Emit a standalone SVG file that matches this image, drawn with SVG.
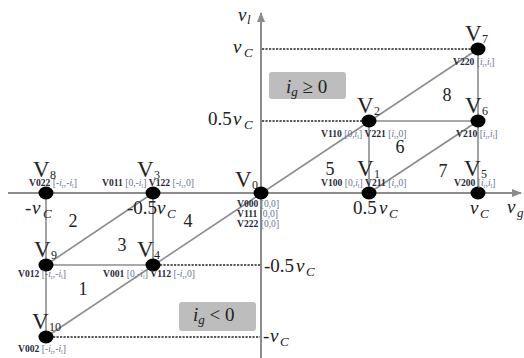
<svg xmlns="http://www.w3.org/2000/svg" width="524" height="358" viewBox="0 0 524 358">
<defs>
<style>
.ln{stroke:#8c8c8c;stroke-width:1.6;fill:none}
.ax{stroke:#8c8c8c;stroke-width:2;fill:none}
.ds{stroke:#5a5a5a;stroke-width:2;stroke-dasharray:2.2 1.3;fill:none}
.dot{fill:#000}
text{font-family:"Liberation Serif","DejaVu Serif",serif;fill:#222}
.V{font-size:23px}
.vs{font-size:12px}
.c{font-size:9.6px;fill:#6a7490}
.b{font-weight:bold;fill:#2a2a3a}
.i{font-style:italic}
.s{font-size:6px}
.num{font-size:18px;text-anchor:middle}
.lab{font-size:19px}
.ls{font-size:13px}
.box{fill:#bdbdbd}
</style>
<marker id="ah" markerWidth="10" markerHeight="10" refX="9" refY="5" orient="auto" markerUnits="userSpaceOnUse">
<path d="M0,1 L10,5 L0,9 z" fill="#8c8c8c"/>
</marker>
</defs>
<rect width="524" height="358" fill="#fff"/>

<g id="axes">
<line class="ax" x1="8" y1="193" x2="521" y2="193" marker-end="url(#ah)"/>
<line class="ax" x1="261" y1="358" x2="261" y2="13" marker-end="url(#ah)"/>
<text class="lab i" x="238" y="21">v</text><text class="ls i" x="247" y="24">l</text>
<text class="lab i" x="507" y="213">v</text><text class="ls i" x="517" y="217">g</text>
</g>

<g id="connectors">
<line class="ln" x1="46" y1="337" x2="478" y2="49"/>
<line class="ln" x1="46" y1="265" x2="153" y2="193"/>
<line class="ln" x1="369" y1="193" x2="478" y2="121"/>
<line class="ln" x1="46" y1="193" x2="46" y2="337"/>
<line class="ln" x1="153" y1="193" x2="153" y2="265"/>
<line class="ln" x1="46" y1="265" x2="153" y2="265"/>
<line class="ln" x1="369" y1="121" x2="369" y2="193"/>
<line class="ln" x1="369" y1="121" x2="478" y2="121"/>
<line class="ln" x1="478" y1="49" x2="478" y2="193"/>
<line class="ds" x1="153" y1="265" x2="260" y2="265"/>
<line class="ds" x1="46" y1="337" x2="260" y2="337"/>
<line class="ds" x1="262" y1="49" x2="478" y2="49"/>
<line class="ds" x1="262" y1="121" x2="369" y2="121"/>
</g>

<g id="ticklabels">
<text class="lab i" x="233" y="53">v</text><text class="ls i" x="244" y="57">C</text>
<text class="lab" x="208" y="125">0.5</text><text class="lab i" x="233" y="125">v</text><text class="ls i" x="244" y="129">C</text>
<text class="lab" x="264" y="272">-0.5</text><text class="lab i" x="296" y="272">v</text><text class="ls i" x="306" y="276">C</text>
<text class="lab" x="263" y="342">-</text><text class="lab i" x="270" y="342">v</text><text class="ls i" x="280" y="346">C</text>
<text class="lab" x="25" y="214">-</text><text class="lab i" x="32" y="214">v</text><text class="ls i" x="43" y="218">C</text>
<text class="lab" x="127" y="214">-0.5</text><text class="lab i" x="157" y="214">v</text><text class="ls i" x="167" y="218">C</text>
<text class="lab" x="353" y="214">0.5</text><text class="lab i" x="379" y="214">v</text><text class="ls i" x="389" y="218">C</text>
<text class="lab i" x="470" y="214">v</text><text class="ls i" x="480" y="218">C</text>
</g>

<g id="regions">
<text class="num" x="73" y="227">2</text>
<text class="num" x="122" y="251">3</text>
<text class="num" x="83" y="295">1</text>
<text class="num" x="188" y="227">4</text>
<text class="num" x="330" y="175">5</text>
<text class="num" x="400" y="153">6</text>
<text class="num" x="443" y="177">7</text>
<text class="num" x="447" y="101">8</text>
</g>

<g id="box-pos">
<rect class="box" x="269" y="72" width="77" height="27" rx="3"/>
<text class="lab" x="286" y="93"><tspan class="i">i</tspan><tspan class="ls i" dy="3">g</tspan><tspan dy="-3"> ≥ 0</tspan></text>
</g>
<g id="box-neg">
<rect class="box" x="179" y="302" width="77" height="29" rx="3"/>
<text class="lab" x="193" y="321"><tspan class="i">i</tspan><tspan class="ls i" dy="3">g</tspan><tspan dy="-3"> &lt; 0</tspan></text>
</g>

<g id="V8">
<ellipse class="dot" cx="46" cy="193" rx="7.5" ry="6.5"/>
<text class="V" x="33" y="177">V</text><text class="vs" x="50" y="179">8</text>
<text class="c" x="29" y="186"><tspan class="b">V022</tspan> [-<tspan class="i">i</tspan><tspan class="s" dy="1.5">r</tspan><tspan dy="-1.5">,-</tspan><tspan class="i">i</tspan><tspan class="s" dy="1.5">l</tspan><tspan dy="-1.5">]</tspan></text>
</g>
<g id="V3">
<ellipse class="dot" cx="153" cy="193" rx="7.5" ry="6.5"/>
<text class="V" x="137" y="177">V</text><text class="vs" x="154" y="179">3</text>
<text class="c" x="102" y="186"><tspan class="b">V011</tspan> [0,-<tspan class="i">i</tspan><tspan class="s" dy="1.5">l</tspan><tspan dy="-1.5">] </tspan><tspan class="b">V122</tspan> [-<tspan class="i">i</tspan><tspan class="s" dy="1.5">r</tspan><tspan dy="-1.5">,0]</tspan></text>
</g>
<g id="V0">
<ellipse class="dot" cx="261" cy="193" rx="7.5" ry="6.5"/>
<text class="V" x="235" y="187">V</text><text class="vs" x="252" y="189">0</text>
<text class="c" x="237" y="207"><tspan class="b">V000</tspan> [0,0]</text>
<text class="c" x="237" y="217"><tspan class="b">V111</tspan> [0,0]</text>
<text class="c" x="237" y="227"><tspan class="b">V222</tspan> [0,0]</text>
</g>
<g id="V9">
<ellipse class="dot" cx="46" cy="265" rx="7.5" ry="6.5"/>
<text class="V" x="34" y="257">V</text><text class="vs" x="51" y="259">9</text>
<text class="c" x="18" y="277"><tspan class="b">V012</tspan> [-<tspan class="i">i</tspan><tspan class="s" dy="1.5">r</tspan><tspan dy="-1.5">,-</tspan><tspan class="i">i</tspan><tspan class="s" dy="1.5">l</tspan><tspan dy="-1.5">]</tspan></text>
</g>
<g id="V4">
<ellipse class="dot" cx="153" cy="265" rx="7.5" ry="6.5"/>
<text class="V" x="137" y="257">V</text><text class="vs" x="154" y="259">4</text>
<text class="c" x="103" y="277"><tspan class="b">V001</tspan> [0,-<tspan class="i">i</tspan><tspan class="s" dy="1.5">l</tspan><tspan dy="-1.5">] </tspan><tspan class="b">V112</tspan> [-<tspan class="i">i</tspan><tspan class="s" dy="1.5">r</tspan><tspan dy="-1.5">,0]</tspan></text>
</g>
<g id="V10">
<ellipse class="dot" cx="46" cy="337" rx="7.5" ry="6.5"/>
<text class="V" x="32" y="329">V</text><text class="vs" x="49" y="331">10</text>
<text class="c" x="18" y="352"><tspan class="b">V002</tspan> [-<tspan class="i">i</tspan><tspan class="s" dy="1.5">r</tspan><tspan dy="-1.5">,-</tspan><tspan class="i">i</tspan><tspan class="s" dy="1.5">l</tspan><tspan dy="-1.5">]</tspan></text>
</g>
<g id="V1">
<ellipse class="dot" cx="369" cy="193" rx="7.5" ry="6.5"/>
<text class="V" x="357" y="176">V</text><text class="vs" x="374" y="178">1</text>
<text class="c" x="321" y="186"><tspan class="b">V100</tspan> [0,<tspan class="i">i</tspan><tspan class="s" dy="1.5">l</tspan><tspan dy="-1.5">] </tspan><tspan class="b">V211</tspan> [<tspan class="i">i</tspan><tspan class="s" dy="1.5">r</tspan><tspan dy="-1.5">,0]</tspan></text>
</g>
<g id="V5">
<ellipse class="dot" cx="478" cy="193" rx="7.5" ry="6.5"/>
<text class="V" x="464" y="176">V</text><text class="vs" x="481" y="178">5</text>
<text class="c" x="454" y="186"><tspan class="b">V200</tspan> [<tspan class="i">i</tspan><tspan class="s" dy="1.5">r</tspan><tspan dy="-1.5">,</tspan><tspan class="i">i</tspan><tspan class="s" dy="1.5">l</tspan><tspan dy="-1.5">]</tspan></text>
</g>
<g id="V2">
<ellipse class="dot" cx="369" cy="121" rx="7.5" ry="6.5"/>
<text class="V" x="357" y="113">V</text><text class="vs" x="374" y="115">2</text>
<text class="c" x="321" y="137"><tspan class="b">V110</tspan> [0,<tspan class="i">i</tspan><tspan class="s" dy="1.5">l</tspan><tspan dy="-1.5">] </tspan><tspan class="b">V221</tspan> [<tspan class="i">i</tspan><tspan class="s" dy="1.5">r</tspan><tspan dy="-1.5">,0]</tspan></text>
</g>
<g id="V6">
<ellipse class="dot" cx="478" cy="121" rx="7.5" ry="6.5"/>
<text class="V" x="465" y="113">V</text><text class="vs" x="482" y="115">6</text>
<text class="c" x="456" y="137"><tspan class="b">V210</tspan> [<tspan class="i">i</tspan><tspan class="s" dy="1.5">r</tspan><tspan dy="-1.5">,</tspan><tspan class="i">i</tspan><tspan class="s" dy="1.5">l</tspan><tspan dy="-1.5">]</tspan></text>
</g>
<g id="V7">
<ellipse class="dot" cx="478" cy="49" rx="7.5" ry="6.5"/>
<text class="V" x="465" y="41">V</text><text class="vs" x="482" y="43">7</text>
<text class="c" x="453" y="65"><tspan class="b">V220</tspan> [<tspan class="i">i</tspan><tspan class="s" dy="1.5">r</tspan><tspan dy="-1.5">,</tspan><tspan class="i">i</tspan><tspan class="s" dy="1.5">l</tspan><tspan dy="-1.5">]</tspan></text>
</g>
</svg>
